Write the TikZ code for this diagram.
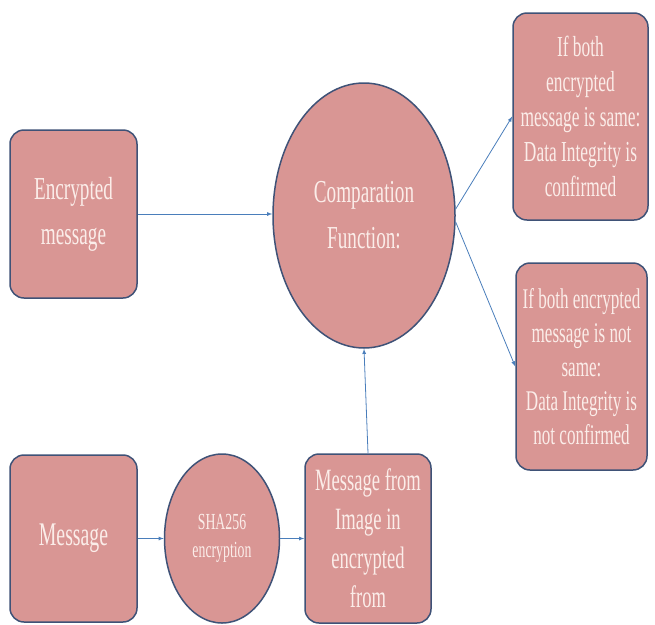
\documentclass[tikz,border=0pt]{standalone}
\usepackage{fontspec}
\newfontfamily\narrowserif[FakeStretch=0.6]{Liberation Serif}
\usepackage{tikz}
\usetikzlibrary{positioning, calc, shapes.geometric}
\definecolor{boxfill}{HTML}{D99694}
\definecolor{boxline}{HTML}{3F5277}
\definecolor{arrowblue}{HTML}{4A7EBB}
\definecolor{boxtext}{HTML}{FBEDE9}

\begin{document}
\begin{tikzpicture}[x=1pt, y=-1pt,
	block/.style={rectangle, rounded corners=14pt, draw=boxline, line width=1.5pt, fill=boxfill,
		text=boxtext, align=center, inner sep=1pt},
	oval/.style={ellipse, draw=boxline, line width=1.5pt, fill=boxfill,
		text=boxtext, align=center, inner sep=1pt},
	txt/.style 2 args={font={\narrowserif\fontsize{#1}{#2}\selectfont}},
	flow/.style={draw=arrowblue, line width=0.8pt, -latex}
	]
	\useasboundingbox (0,0) rectangle (655,624);

	\node[block, txt={32}{45}, minimum width=127pt, minimum height=168pt] (enc) at (73.5,214)
	{Encrypted\\message};
	\node[oval, txt={32}{46}, minimum width=182pt, minimum height=265pt] (cmp) at (364,215.5)
	{Comparation\\Function:};
	\node[block, txt={29}{35}, minimum width=135pt, minimum height=207pt] (same) at (580.5,116.5)
	{If both\\encrypted\\message is same:\\Data Integrity is\\confirmed};
	\node[block, txt={28.5}{34}, minimum width=131pt, minimum height=207pt] (notsame) at (581.5,366.5)
	{If both encrypted\\message is not\\same:\\Data Integrity is\\not confirmed};

	\node[block, txt={33}{45}, minimum width=127pt, minimum height=167pt] (msg) at (73.5,538.5)
	{Message};
	\node[oval, txt={23}{28}, minimum width=115pt, minimum height=169pt, right=26pt of msg] (sha)
	{SHA256\\encryption};
	\node[block, txt={31}{39}, minimum width=126pt, minimum height=169pt, right=24pt of sha] (img)
	{Message from\\Image in\\encrypted\\from};

	\draw[flow] (enc.east) -- (cmp.west |- enc.east);
	\draw[flow] (cmp.4) -- (same.west);
	\draw[flow] (cmp.-4) -- (notsame.west);
	\draw[flow] (msg.east) -- (sha.west);
	\draw[flow] (sha.east) -- (img.west);
	\draw[flow] (img.north) -- (cmp.south);
\end{tikzpicture}
\end{document}
